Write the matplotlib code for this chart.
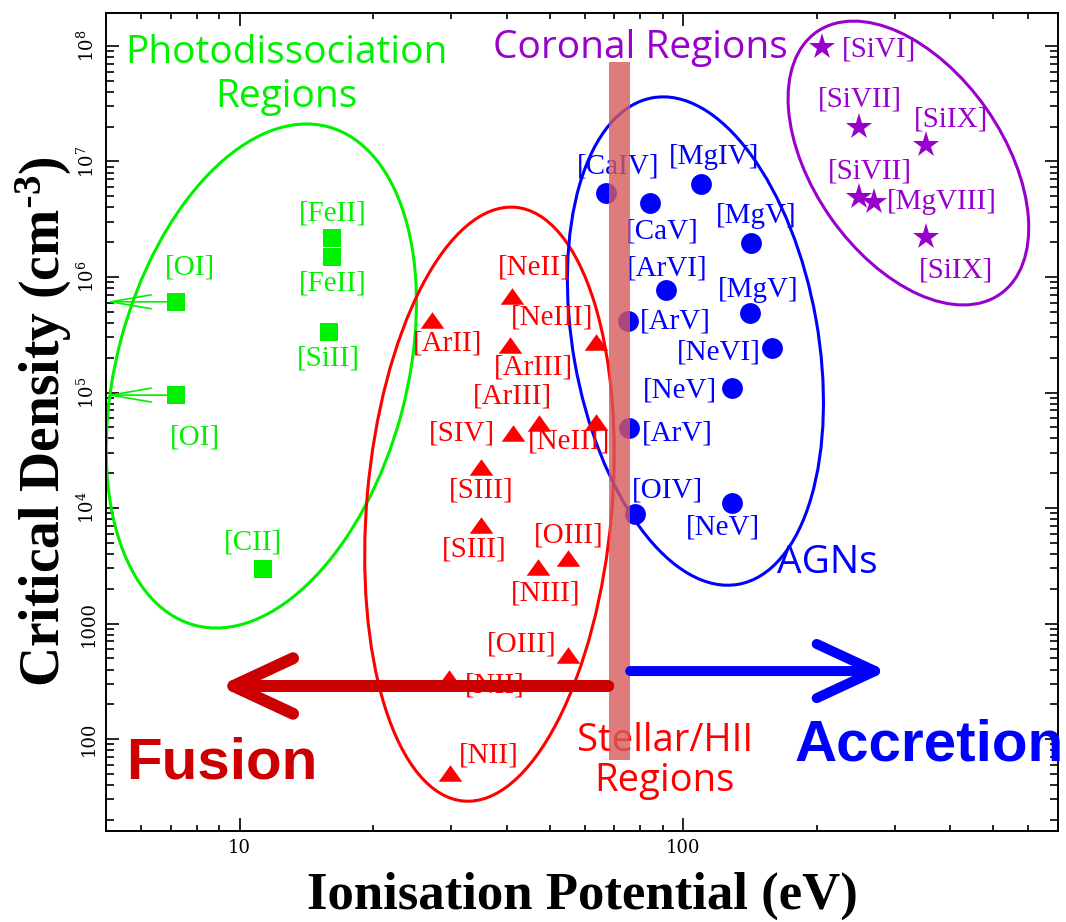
import matplotlib
matplotlib.use('Agg')
import matplotlib.pyplot as plt
from matplotlib.patches import Ellipse
from matplotlib.transforms import ScaledTranslation
from matplotlib.ticker import NullFormatter

plt.rcParams['mathtext.default'] = 'regular'

# ionisation potential (eV), critical density (cm^-3), label, label offset (px)
pdr_x = [7.2, 7.2, 16.2, 16.2, 15.9, 11.3]
pdr_y = [6.1e5, 9.5e4, 2.18e6, 1.49e6, 3.34e5, 2.97e3]
pdr_lab = ['[OI]', '[OI]', '[FeII]', '[FeII]', '[SiII]', '[CII]']
pdr_off = [(14, 34), (19, -42), (0, 24), (0, -26), (0, -26), (-10, 26)]

hii_x = [27.1, 41.1, 63.5, 40.8, 47.3, 41.3, 63.6, 35.1, 35.1, 55.0, 47.0, 55.0, 29.7, 29.8]
hii_y = [4.25e5, 6.84e5, 2.74e5, 2.58e5, 5.45e4, 4.46e4, 5.56e4, 2.25e4, 7.1e3,
         3.69e3, 3.1e3, 533, 337, 50.8]
hii_lab = ['[ArII]', '[NeII]', '[NeIII]', '[ArIII]', '[ArIII]', '[SIV]', '[NeIII]',
           '[SIII]', '[SIII]', '[OIII]', '[NIII]', '[OIII]', '[NII]', '[NII]']
hii_off = [(16, -24), (22, 29), (-44, 24), (23, -23), (-26, 26), (-51, 0), (-27, -20),
           (0, -23), (-7, -24), (1, 23), (8, -27), (-46, 11), (46, -7), (39, 18)]

agn_x = [67.0, 84.1, 109.6, 91.4, 142.0, 141.5, 75.3, 158.8, 128.9, 75.6, 77.8, 128.9]
agn_y = [5.37e6, 4.35e6, 6.34e6, 7.7e5, 1.96e6, 4.86e5, 4.16e5, 2.44e5, 1.09e5,
         4.96e4, 8.87e3, 1.1e4]
agn_lab = ['[CaIV]', '[CaV]', '[MgIV]', '[ArVI]', '[MgV]', '[MgV]', '[ArV]', '[NeVI]',
           '[NeV]', '[ArV]', '[OIV]', '[NeV]']
agn_off = [(12, 26), (13, -28), (13, 27), (1, 22), (6, 27), (8, 23), (47, 0), (-53, -5),
           (-52, -2), (48, -6), (33, 24), (-9, -24)]

cor_x = [205.6, 249.0, 352.0, 249.0, 269.0, 352.0]
cor_y = [9.86e7, 2.0e7, 1.39e7, 4.95e6, 4.49e6, 2.2e6]
cor_lab = ['[SiVI]', '[SiVII]', '[SiIX]', '[SiVII]', '[MgVIII]', '[SiIX]']
cor_off = [(57, -3), (1, 27), (25, 25), (11, 25), (68, 0), (30, -33)]

y_ticks = [100, 1000, 1e4, 1e5, 1e6, 1e7, 1e8]
y_tick_labels = ['100', '1000', '10$^4$', '10$^5$', '10$^6$', '10$^7$', '10$^8$']
x_ticks = [10, 100]
x_tick_labels = ['10', '100']

GREEN = '#00f000'
RED = '#ff0000'
BLUE = '#0000ff'
PURPLE = '#9900cc'
DARKRED = '#cc0000'

fig = plt.figure(figsize=(10.66, 9.22), dpi=100)
ax = fig.add_axes([0.0994, 0.0987, 0.8931, 0.8872])
ax.set_xscale('log')
ax.set_yscale('log')
ax.set_xlim(5, 700)
ax.set_ylim(16, 1.93e8)

tri = [(-1, -0.7), (1, -0.7), (0, 0.7)]
groups = [
    (pdr_x, pdr_y, pdr_lab, pdr_off, GREEN, 's', 12.5),
    (hii_x, hii_y, hii_lab, hii_off, RED, tri, 17),
    (agn_x, agn_y, agn_lab, agn_off, BLUE, 'o', 15),
    (cor_x, cor_y, cor_lab, cor_off, PURPLE, '*', 20),
]
for xs, ys, labs, offs, col, mk, ms in groups:
    ax.plot(xs, ys, ls='none', marker=mk, ms=ms, color=col, mew=0, zorder=3)
    for x, y, lab, off in zip(xs, ys, labs, offs):
        ax.annotate(lab, (x, y), xytext=off, textcoords='offset pixels',
                    ha='center', va='center', color=col, fontsize=21,
                    family='Liberation Serif', zorder=3)

# [OI] points extend to the left edge
for x, y in zip(pdr_x[:2], pdr_y[:2]):
    ax.annotate('', xy=(5, y), xytext=(x, y),
                arrowprops=dict(arrowstyle='->,head_length=2.9,head_width=0.5',
                                color=GREEN, lw=1.2, shrinkA=0, shrinkB=0),
                annotation_clip=False, zorder=3)

# region outlines, sized in inches around a data-space centre
regions = [
    ((11.2, 1.39e5), 5.16, 2.9, 75, GREEN),
    ((36.6, 1.08e4), 5.96, 2.45, 85, RED),
    ((106.6, 2.79e5), 4.94, 2.45, 100, BLUE),
    ((322, 9.7e6), 3.2, 1.9, 125, PURPLE),
]
for (cx, cy), w, h, ang, col in regions:
    tr = fig.dpi_scale_trans + ScaledTranslation(cx, cy, ax.transData)
    ax.add_patch(Ellipse((0, 0), w, h, angle=ang, transform=tr, fill=False,
                         edgecolor=col, lw=2.2, zorder=2))

# stellar / AGN divide
ax.fill_between([68.1, 76.0], 65.8, 7.26e7, color='#d65a5a', alpha=0.8, lw=0, zorder=4)

ax.annotate('', xy=(9.0, 288), xytext=(67.8, 288),
            arrowprops=dict(arrowstyle='->,head_length=4.3,head_width=2.0',
                            color=DARKRED, lw=8.6, shrinkA=0, shrinkB=0,
                            capstyle='round', joinstyle='round'), zorder=5)
ax.annotate('', xy=(288, 388), xytext=(76, 388),
            arrowprops=dict(arrowstyle='->,head_length=4.2,head_width=1.95',
                            color=BLUE, lw=7.2, shrinkA=0, shrinkB=0,
                            capstyle='round', joinstyle='round'), zorder=5)

sans = 'Open Sans'
ax.text(0.190, 0.924, 'Photodissociation\nRegions', transform=ax.transAxes, ha='center',
        va='center', color=GREEN, fontsize=28, family=sans, linespacing=1.21)
ax.text(0.561, 0.957, 'Coronal Regions', transform=ax.transAxes, ha='center', va='center',
        color=PURPLE, fontsize=28, family=sans)
ax.text(0.758, 0.328, 'AGNs', transform=ax.transAxes, ha='center', va='center',
        color=BLUE, fontsize=28, family=sans)
ax.text(0.587, 0.0856, 'Stellar/HII\nRegions', transform=ax.transAxes, ha='center',
        va='center', color=RED, fontsize=27.5, family=sans, linespacing=1.1)
ax.text(0.122, 0.082, 'Fusion', transform=ax.transAxes, ha='center', va='center',
        color=DARKRED, fontsize=42, family='Liberation Sans', weight='bold')
ax.text(0.865, 0.105, 'Accretion', transform=ax.transAxes, ha='center', va='center',
        color=BLUE, fontsize=42, family='Liberation Sans', weight='bold', clip_on=False)

ax.set_xticks(x_ticks)
ax.set_xticklabels(x_tick_labels, family='DejaVu Serif', fontsize=13)
ax.set_yticks(y_ticks)
ax.set_yticklabels(y_tick_labels, family='DejaVu Serif', fontsize=13, rotation=90, va='center')
ax.xaxis.set_minor_formatter(NullFormatter())
ax.yaxis.set_minor_formatter(NullFormatter())
ax.tick_params(which='both', direction='in', top=True, right=True, width=1.2)
ax.tick_params(which='major', length=9.5, pad=6)
ax.tick_params(axis='y', which='minor', length=6)
ax.tick_params(axis='x', which='minor', length=4.5)
for s in ax.spines.values():
    s.set_linewidth(1.4)

ax.set_xlabel('Ionisation Potential (eV)', family='Liberation Serif', weight='bold',
              fontsize=38, labelpad=10)
ax.set_ylabel(r'Critical Density (cm$^{\text{-}3}$)', family='Liberation Serif',
              weight='bold', fontsize=40, labelpad=2)

fig.savefig('out.png', dpi=100)
